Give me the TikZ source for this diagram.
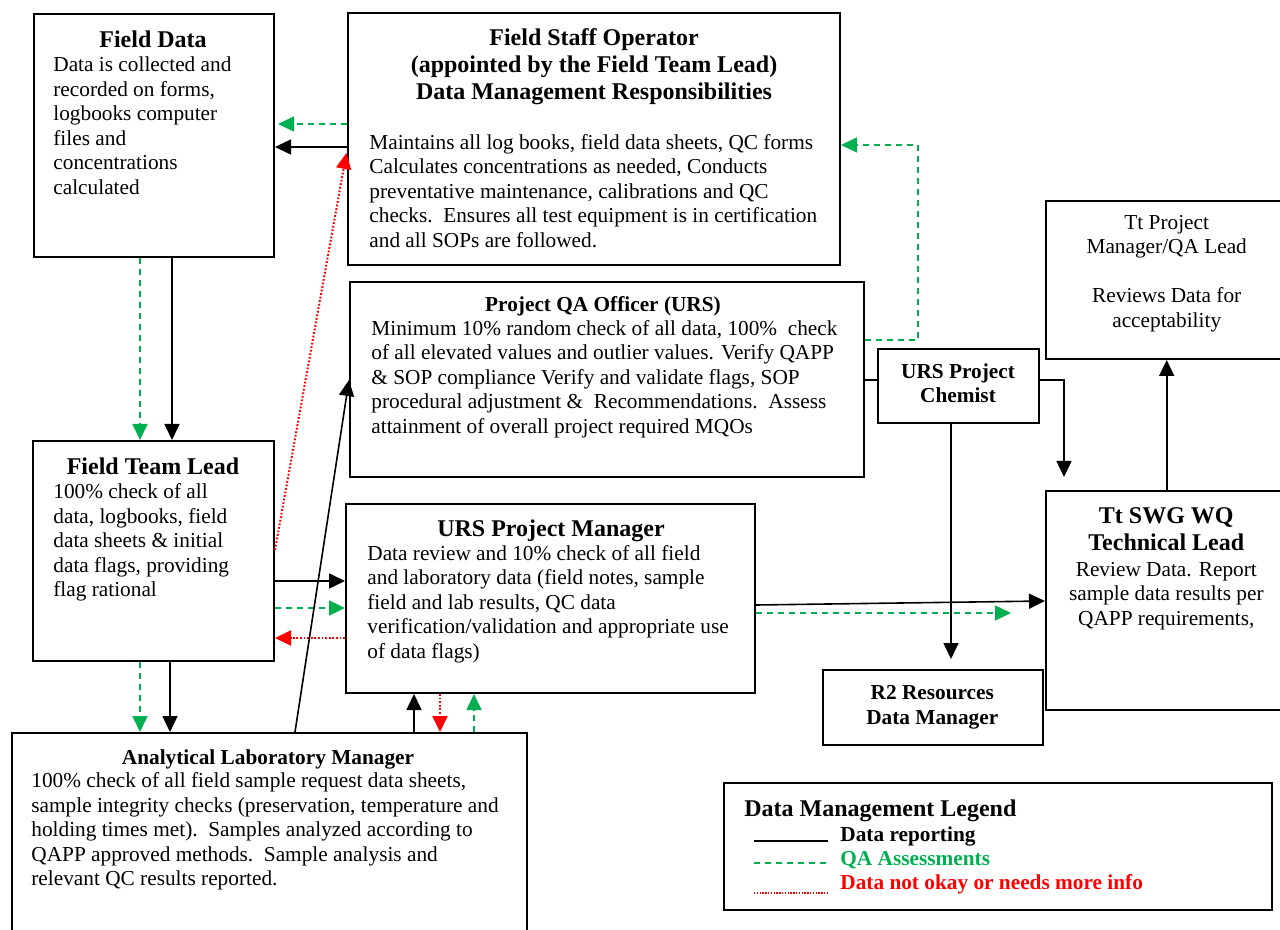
\documentclass[tikz,border=0pt]{standalone}
\usepackage{fontspec}
\setmainfont{Liberation Serif}
\usepackage{tikz}
\usetikzlibrary{arrows.meta}
\usetikzlibrary{fit}
\definecolor{qagreen}{RGB}{0,176,80}
\definecolor{flagred}{RGB}{255,0,0}
\tikzset{
  boxframe/.style={draw, line width=1pt, inner sep=0pt},
  heading/.style={font=\fontsize{12}{13.5}\selectfont\bfseries, align=center, inner sep=0pt},
  subheading/.style={font=\fontsize{10.65}{12.25}\selectfont\bfseries, align=center, inner sep=0pt},
  bodytext/.style={font=\fontsize{10.65}{12.25}\selectfont, align=left, inner sep=0pt},
  datarep/.style={line width=0.8pt, -{Triangle[length=8pt,width=7.5pt]}},
  qacheck/.style={qagreen, line width=0.8pt, dash pattern=on 3pt off 2.5pt, -{Triangle[length=8pt,width=7.5pt]}},
  notokay/.style={flagred, line width=1pt, dash pattern=on 0.9pt off 0.9pt, -{Triangle[length=8pt,width=7.5pt]}}
}
\newcommand{\orgbox}[5]{\node[boxframe, fit={(#2,#3) (#4,#5)}] (#1) {};}

\begin{document}
\begin{tikzpicture}[x=0.5pt,y=-0.5pt]
\useasboundingbox (0,0) rectangle (1280,930);
\clip (0,0) rectangle (1280,930);
% boxes
\orgbox{fielddata}{34}{14}{274}{257}
\orgbox{fieldstaff}{348}{13}{840}{265}
\orgbox{qaofficer}{350}{282}{864}{477}
\orgbox{chemist}{878}{349}{1039}{423}
\orgbox{ttpm}{1046}{201}{1300}{359}
\orgbox{fieldlead}{33}{441}{274}{661}
\orgbox{projmgr}{346}{504}{755}{693}
\orgbox{techlead}{1046}{491}{1300}{710}
\orgbox{rtwo}{823}{670}{1043}{745}
\orgbox{labmgr}{12}{733}{527}{960}
\orgbox{legend}{724}{783}{1272}{910}
% texts, placed by the baseline of their last line
% field data
\node[heading, anchor=base] (fielddatahead) at (153,47.5) {Field Data};
\node[bodytext, anchor=base west] (fielddatabody) at (53,194.2) {Data is collected and\\recorded on forms,\\logbooks computer\\files and\\concentrations\\calculated};
% field staff operator
\node[heading, anchor=base] (fieldstaffhead) at (594,100) {Field Staff Operator\\(appointed by the Field Team Lead)\\Data Management Responsibilities};
\node[bodytext, anchor=base west] (fieldstaffbody) at (369,247.5) {Maintains all log books, field data sheets, QC forms\\Calculates concentrations as needed, Conducts\\preventative maintenance, calibrations and QC\\checks.\ \ Ensures all test equipment is in certification\\and all SOPs are followed.};
% qa officer
\node[subheading, anchor=base] (qaofficerhead) at (603,311.7) {Project QA Officer (URS)};
\node[bodytext, anchor=base west] (qaofficerbody) at (371,433.3) {Minimum 10\% random check of all data, 100\%\ \ check\\of all elevated values and outlier values. Verify QAPP\\\& SOP compliance Verify and validate flags, SOP\\procedural adjustment \&\ \ Recommendations.\ \ Assess\\attainment of overall project required MQOs};
% chemist
\node[subheading, anchor=base] (chemisttext) at (958,402.7) {URS Project\\Chemist};
% tt project manager
\node[bodytext, align=center, anchor=base] (ttpmtext) at (1166.7,327.5) {Tt Project\\Manager/QA Lead\\[12.25pt]Reviews Data for\\acceptability};
% field team lead
\node[heading, anchor=base] (fieldleadhead) at (153,474) {Field Team Lead};
\node[bodytext, anchor=base west] (fieldleadbody) at (53,596.5) {100\% check of all\\data, logbooks, field\\data sheets \& initial\\data flags, providing\\flag rational};
% project manager
\node[heading, anchor=base] (projmgrhead) at (551,537) {URS Project Manager};
\node[bodytext, anchor=base west] (projmgrbody) at (367,658) {Data review and 10\% check of all field\\and laboratory data (field notes, sample\\field and lab results, QC data\\verification/validation and appropriate use\\of data flags)};
% technical lead
\node[heading, anchor=base] (techleadhead) at (1166.3,551) {Tt SWG WQ\\Technical Lead};
\node[bodytext, align=center, anchor=base] (techleadbody) at (1166.3,625) {Review Data. Report\\sample data results per\\QAPP requirements,};
% r2 data manager
\node[subheading, anchor=base] (rtwotext) at (932.3,724.3) {R2 Resources\\Data Manager};
% lab manager
\node[subheading, anchor=base] (labmgrhead) at (268,764) {Analytical Laboratory Manager};
\node[bodytext, anchor=base west] (labmgrbody) at (31,885.5) {100\% check of all field sample request data sheets,\\sample integrity checks (preservation, temperature and\\holding times met).\ \ Samples analyzed according to\\QAPP approved methods.\ \ Sample analysis and\\relevant QC results reported.};
% connectors top row
\draw[qacheck, shorten >=1.5pt] (fieldstaff.west |- 0,124) -- (fielddata.east |- 0,124);
\draw[datarep] (fieldstaff.west |- 0,147) -- (fielddata.east |- 0,147);
\draw[notokay, shorten >=1.5pt] (fieldlead.east |- 0,550) -- (fieldstaff.west |- 0,150);
\draw[datarep] (fielddata.south -| 172,0) -- (fieldlead.north -| 172,0);
\draw[qacheck] (fielddata.south -| 140,0) -- (fieldlead.north -| 140,0);
% connectors field team lead
\draw[datarep] (fieldlead.south -| 170,0) -- (labmgr.north -| 170,0);
\draw[qacheck] (fieldlead.south -| 140,0) -- (labmgr.north -| 140,0);
\draw[datarep] (fieldlead.east |- 0,581) -- (projmgr.west |- 0,581);
\draw[qacheck] (fieldlead.east |- 0,608) -- (projmgr.west |- 0,608);
\draw[notokay] (projmgr.west |- 0,638) -- (fieldlead.east |- 0,638);
% connectors lab manager
\draw[datarep] (labmgr.north -| 295,0) -- (qaofficer.west |- 0,380);
\draw[datarep] (labmgr.north -| 414,0) -- (projmgr.south -| 414,0);
\draw[notokay] (projmgr.south -| 440,0) -- (labmgr.north -| 440,0);
\draw[qacheck] (labmgr.north -| 474,0) -- (projmgr.south -| 474,0);
% connectors qa officer and chemist
\coordinate (qabend) at (918,145);
\draw[qacheck] (qaofficer.east |- 0,340) -| (qabend) -- (fieldstaff.east |- qabend);
\draw[line width=0.8pt] (qaofficer.east |- 0,380) -- (chemist.west |- 0,380);
\draw[datarep, shorten >=6.5pt] (chemist.east |- 0,380) -| (techlead.north -| 1064,0);
\draw[datarep, shorten >=5pt] (chemist.south -| 951,0) -- (rtwo.north -| 951,0);
\draw[datarep] (techlead.north -| 1166.7,0) -- (ttpm.south -| 1166.7,0);
% connectors project manager
\draw[datarep] (projmgr.east |- 0,605) -- (techlead.west |- 0,601);
\draw[qacheck, shorten >=17pt] (projmgr.east |- 0,613) -- (techlead.west |- 0,613);
% legend
\node[heading, anchor=base west] (legendhead) at (744,816) {Data Management Legend};
\node[subheading, anchor=base west] (legendrep) at (840,841.7) {Data reporting};
\node[subheading, anchor=base west, text=qagreen] (legendqa) at (840,865) {QA Assessments};
\node[subheading, anchor=base west, text=flagred] (legendflag) at (840,889.3) {Data not okay or needs more info};
\draw[line width=1.2pt] (754,841) -- (828,841);
\draw[qagreen, line width=0.9pt, dash pattern=on 3pt off 2.5pt] (754,862.7) -- (828,862.7);
\draw[flagred, line width=1pt, dash pattern=on 0.7pt off 0.7pt] (754,893) -- (828,893);
\end{tikzpicture}
\end{document}
